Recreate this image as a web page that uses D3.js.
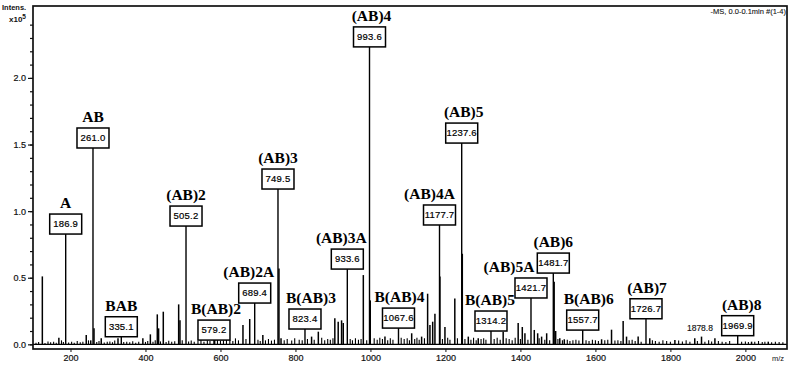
<!DOCTYPE html>
<html><head><meta charset="utf-8">
<script src="https://cdn.jsdelivr.net/npm/d3@7"></script>
<style>body{margin:0;background:#fff}svg{display:block}</style>
</head><body>
<script>
// ---------- data ----------
const labelNames = ["A","AB","BAB","(AB)2","B(AB)2","(AB)2A","(AB)3","B(AB)3","(AB)3A","(AB)4","B(AB)4","(AB)4A","(AB)5","B(AB)5","(AB)5A","(AB)6","B(AB)6","(AB)7","(AB)8"];
const labelValues = ["186.9","261.0","335.1","505.2","579.2","689.4","749.5","823.4","933.6","993.6","1067.6","1177.7","1237.6","1314.2","1421.7","1481.7","1557.7","1726.7","1969.9"];
const labelPeakMz = [187.2,260.0,335.5,508.1,582.7,691.3,753.4,825.4,938.3,997.5,1074.8,1184.2,1243.4,1321.5,1428.2,1487.7,1566.1,1734.9,1979.5];
const labelPeakInt = [0.828,1.474,0.057,0.888,0.032,0.31,1.166,0.115,0.565,2.233,0.122,0.896,1.511,0.10,0.348,0.535,0.107,0.192,0.065];
// unlabeled peaks (m/z, intensity x10^5)
const peakMz = [124.9,169,242,254,262.7,282,326.7,393,413,431.5,435,447.5,488.5,492,584.5,660,678,713,756,761.5,843,861,905,914,923,927.5,981,999.5,1038.7,1110,1136.5,1152.5,1158.7,1166,1172,1185.3,1198.7,1225,1245,1261,1287.5,1354,1394,1405,1412,1437,1446,1456.5,1470,1490,1494,1505,1517,1616.5,1643,1674,1683,1714,1745,1812,1865,1883,1918.7,2016.5,2061];
const peakInt = [0.51,0.05,0.07,0.03,0.12,0.045,0.045,0.045,0.075,0.225,0.12,0.245,0.30,0.18,0.06,0.145,0.19,0.07,0.57,0.045,0.058,0.095,0.195,0.17,0.18,0.16,0.52,0.33,0.058,0.083,0.058,0.38,0.145,0.17,0.23,0.51,0.13,0.345,0.68,0.058,0.045,0.095,0.16,0.13,0.083,0.108,0.083,0.058,0.083,0.47,0.10,0.045,0.038,0.038,0.11,0.175,0.058,0.058,0.045,0.033,0.045,0.058,0.045,0.02,0.02];
// low-level noise peaks
const noiseMz = [108,115,132,140,147,155,162,176,181,195,203,210,218,226,233,248,270,276,290,298,305,312,318,342,350,358,366,374,382,400,406,420,426,440,455,462,470,478,498,515,522,530,540,548,556,565,572,592,600,608,616,625,633,640,648,668,700,706,720,728,736,744,770,778,790,798,810,818,832,850,870,878,886,893,900,946,952,960,968,975,990,1010,1018,1025,1032,1046,1053,1060,1082,1090,1098,1104,1118,1124,1130,1144,1192,1206,1212,1232,1252,1268,1275,1282,1295,1302,1308,1330,1338,1346,1362,1370,1378,1386,1400,1420,1450,1465,1478,1500,1512,1525,1532,1540,1548,1556,1575,1583,1592,1600,1608,1625,1633,1652,1660,1668,1690,1698,1706,1722,1752,1760,1770,1780,1790,1800,1822,1832,1842,1852,1872,1892,1902,1910,1928,1938,1948,1958,1990,2000,2008,2025,2035,2045,2052,2070,2080,2090,2100];
const noiseInt = [0.012,0.018,0.01,0.022,0.015,0.02,0.012,0.03,0.018,0.014,0.02,0.012,0.025,0.016,0.02,0.03,0.018,0.025,0.014,0.02,0.022,0.016,0.028,0.018,0.02,0.015,0.024,0.012,0.02,0.018,0.025,0.02,0.03,0.022,0.018,0.026,0.02,0.024,0.03,0.022,0.028,0.02,0.025,0.035,0.02,0.03,0.025,0.035,0.028,0.03,0.04,0.032,0.025,0.045,0.03,0.04,0.035,0.025,0.03,0.04,0.028,0.035,0.03,0.04,0.028,0.045,0.035,0.03,0.04,0.035,0.05,0.03,0.04,0.035,0.045,0.04,0.03,0.045,0.035,0.04,0.03,0.045,0.035,0.05,0.04,0.03,0.045,0.035,0.05,0.04,0.045,0.03,0.04,0.05,0.035,0.045,0.04,0.05,0.035,0.045,0.04,0.035,0.05,0.03,0.04,0.045,0.035,0.04,0.05,0.035,0.045,0.04,0.03,0.05,0.04,0.035,0.045,0.035,0.03,0.04,0.03,0.035,0.025,0.03,0.035,0.028,0.03,0.025,0.035,0.03,0.025,0.03,0.035,0.028,0.03,0.025,0.03,0.035,0.025,0.02,0.03,0.025,0.02,0.03,0.025,0.02,0.028,0.022,0.03,0.02,0.025,0.02,0.03,0.022,0.025,0.02,0.018,0.025,0.02,0.022,0.018,0.02,0.025,0.018,0.02,0.015,0.02,0.018,0.015];
const xTickValues = [200,400,600,800,1000,1200,1400,1600,1800,2000];
const yTickValues = [0.0,0.5,1.0,1.5,2.0];
const extraText = [{mz:1878.8, text:"1878.8"}];

// ---------- layout ----------
const W = 795, H = 366;
const labelDx = [0,0,0,0,2,-6,0,6,-6,2,1,-10,2,-1,-22,0,6,1,4];
const svg = d3.select("body").append("svg").attr("width", W).attr("height", H);
const x = d3.scaleLinear().domain([100, 2111]).range([33, 787]);
const y = d3.scaleLinear().domain([-0.035, 2.54]).range([349, 6]);
const y0 = y(0);
const sans = "Arial, 'Liberation Sans', sans-serif";

// baseline
svg.append("line").attr("x1", x(100)).attr("x2", x(2111)).attr("y1", y0).attr("y2", y0)
  .attr("stroke", "#000").attr("stroke-width", 1.4);

// noise
svg.append("g").selectAll("line").data(d3.zip(noiseMz, noiseInt)).join("line")
  .attr("x1", d => x(d[0])).attr("x2", d => x(d[0]))
  .attr("y1", y0).attr("y2", d => y(d[1]))
  .attr("stroke", "#000").attr("stroke-width", 1.1);

// unlabeled peaks
svg.append("g").selectAll("line").data(d3.zip(peakMz, peakInt)).join("line")
  .attr("x1", d => x(d[0])).attr("x2", d => x(d[0]))
  .attr("y1", y0).attr("y2", d => y(d[1]))
  .attr("stroke", "#000").attr("stroke-width", 1.5);

// labeled peaks
const lab = labelNames.map((n, i) => ({name: n, val: labelValues[i], mz: labelPeakMz[i], v: labelPeakInt[i], dx: labelDx[i]}));
svg.append("g").selectAll("line").data(lab).join("line")
  .attr("x1", d => x(d.mz)).attr("x2", d => x(d.mz))
  .attr("y1", y0).attr("y2", d => y(d.v))
  .attr("stroke", "#000").attr("stroke-width", 1.4);

const bw = 32, bh = 20;
const lg = svg.append("g").selectAll("g").data(lab).join("g")
  .attr("transform", d => `translate(${x(d.mz)},${y(d.v)})`);
lg.append("rect").attr("x", -bw/2).attr("y", -bh).attr("width", bw).attr("height", bh)
  .attr("fill", "#fff").attr("stroke", "#000").attr("stroke-width", 1.5);
lg.append("text").attr("x", 0).attr("y", -bh/2 + 3.3).attr("text-anchor", "middle")
  .attr("font-family", sans).attr("font-size", 9.5).attr("letter-spacing", 0.2)
  .attr("fill", "#000").attr("stroke", "#000").attr("stroke-width", 0.2).text(d => d.val);
lg.append("text").attr("x", d => d.dx).attr("y", -bh - 6).attr("text-anchor", "middle")
  .attr("font-family", "'Liberation Serif', 'Times New Roman', serif").attr("font-weight", "bold")
  .attr("font-size", 15.5).attr("fill", "#000").text(d => d.name);

// plain annotation
svg.append("g").selectAll("text").data(extraText).join("text")
  .attr("x", d => x(d.mz)).attr("y", y(0.1)).attr("text-anchor", "middle")
  .attr("font-family", sans).attr("font-size", 8.5)
  .attr("fill", "#111").attr("stroke", "#111").attr("stroke-width", 0.15).text(d => d.text);

// frame
svg.append("rect").attr("x", 33).attr("y", 6).attr("width", 754).attr("height", 343)
  .attr("fill", "none").attr("stroke", "#111").attr("stroke-width", 1.7);

// y axis
const yMinor = d3.range(0, 24.5, 1).map(v => v / 10);
svg.append("g").attr("transform", "translate(33,0)")
  .call(d3.axisLeft(y).tickValues(yMinor).tickSize(3).tickFormat(""))
  .call(g => g.select(".domain").remove())
  .call(g => g.selectAll("line").attr("stroke", "#111").attr("stroke-width", 1.2));
svg.append("g").attr("transform", "translate(33,0)")
  .call(d3.axisLeft(y).tickValues(yTickValues).tickSize(5).tickPadding(2).tickFormat(d3.format(".1f")))
  .call(g => g.select(".domain").remove())
  .call(g => g.selectAll("line").attr("stroke", "#111").attr("stroke-width", 1.2))
  .call(g => g.selectAll("text").attr("font-family", sans).attr("font-size", 9).attr("fill", "#111").attr("stroke", "#111").attr("stroke-width", 0.2));

// x axis
svg.append("g").attr("transform", "translate(0,349)")
  .call(d3.axisBottom(x).tickValues(xTickValues).tickSize(3).tickPadding(3).tickFormat(d3.format("d")))
  .call(g => g.select(".domain").remove())
  .call(g => g.selectAll("line").attr("stroke", "#111"))
  .call(g => g.selectAll("text").attr("font-family", sans).attr("font-size", 9).attr("fill", "#111").attr("stroke", "#111").attr("stroke-width", 0.2));

// titles
svg.append("text").attr("x", 2).attr("y", 10).attr("font-family", sans)
  .attr("font-size", 7.5).attr("font-weight", "bold").attr("fill", "#111").text("Intens.");
const xt = svg.append("text").attr("x", 9).attr("y", 22).attr("font-family", sans)
  .attr("font-size", 8).attr("font-weight", "bold").attr("fill", "#111");
xt.append("tspan").text("x10");
xt.append("tspan").attr("dy", -3).attr("font-size", 6.5).text("5");
svg.append("text").attr("x", 784).attr("y", 361).attr("text-anchor", "end")
  .attr("font-family", sans).attr("font-size", 7.5).attr("fill", "#111").text("m/z");
svg.append("text").attr("x", 786).attr("y", 14).attr("text-anchor", "end")
  .attr("font-family", sans).attr("font-size", 7.5).attr("fill", "#111").attr("stroke", "#111").attr("stroke-width", 0.1).text("-MS, 0.0-0.1min #(1-4)");
</script>
</body></html>
